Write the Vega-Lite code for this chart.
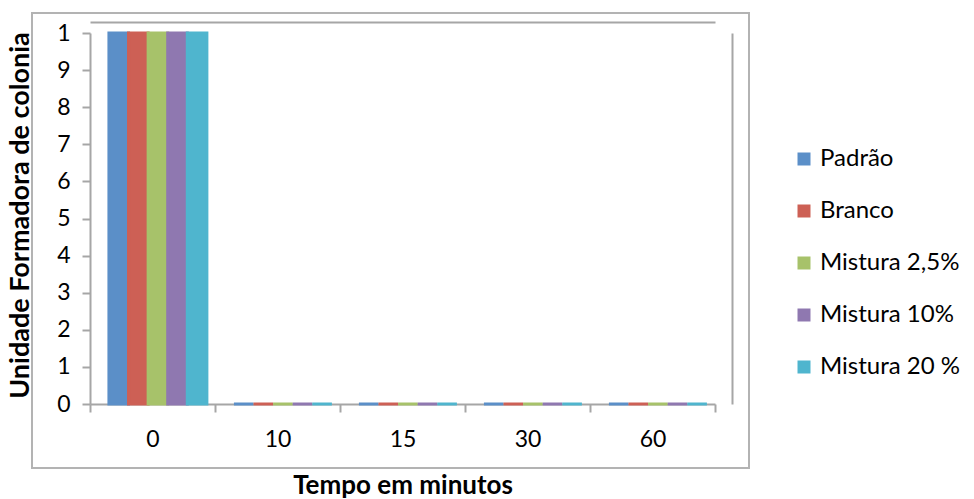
{
  "$schema": "https://vega.github.io/schema/vega-lite/v6.json",
  "width": 717,
  "height": 455,
  "autosize": "none",
  "padding": {"left": 32, "top": 13, "right": 225, "bottom": 31},
  "background": "white",
  "config": {
    "font": "Lato",
    "view": {"stroke": "#b3b3b3", "strokeWidth": 2},
    "axis": {"grid": false, "domainColor": "#a6a6a6", "domainWidth": 2, "tickColor": "#a6a6a6", "tickWidth": 2, "labelColor": "#000000", "titleColor": "#000000", "labelFont": "Lato", "titleFont": "Lato"}
  },
  "data": {
    "values": [
      {"tempo": "0", "serie": "Padrão", "ufc": 10},
      {"tempo": "0", "serie": "Branco", "ufc": 10},
      {"tempo": "0", "serie": "Mistura 2,5%", "ufc": 10},
      {"tempo": "0", "serie": "Mistura 10%", "ufc": 10},
      {"tempo": "0", "serie": "Mistura 20 %", "ufc": 10},
      {"tempo": "10", "serie": "Padrão", "ufc": 0},
      {"tempo": "10", "serie": "Branco", "ufc": 0},
      {"tempo": "10", "serie": "Mistura 2,5%", "ufc": 0},
      {"tempo": "10", "serie": "Mistura 10%", "ufc": 0},
      {"tempo": "10", "serie": "Mistura 20 %", "ufc": 0},
      {"tempo": "15", "serie": "Padrão", "ufc": 0},
      {"tempo": "15", "serie": "Branco", "ufc": 0},
      {"tempo": "15", "serie": "Mistura 2,5%", "ufc": 0},
      {"tempo": "15", "serie": "Mistura 10%", "ufc": 0},
      {"tempo": "15", "serie": "Mistura 20 %", "ufc": 0},
      {"tempo": "30", "serie": "Padrão", "ufc": 0},
      {"tempo": "30", "serie": "Branco", "ufc": 0},
      {"tempo": "30", "serie": "Mistura 2,5%", "ufc": 0},
      {"tempo": "30", "serie": "Mistura 10%", "ufc": 0},
      {"tempo": "30", "serie": "Mistura 20 %", "ufc": 0},
      {"tempo": "60", "serie": "Padrão", "ufc": 0},
      {"tempo": "60", "serie": "Branco", "ufc": 0},
      {"tempo": "60", "serie": "Mistura 2,5%", "ufc": 0},
      {"tempo": "60", "serie": "Mistura 10%", "ufc": 0},
      {"tempo": "60", "serie": "Mistura 20 %", "ufc": 0}
    ]
  },
  "layer": [
    {
      "mark": {"type": "bar", "strokeWidth": 3},
      "encoding": {
        "x": {
          "field": "tempo", "type": "nominal", "sort": ["0", "10", "15", "30", "60"],
          "scale": {"range": [58, 683], "paddingInner": 0, "paddingOuter": 0},
          "axis": {"orient": "bottom", "offset": -64, "labelAngle": 0, "tickBand": "extent", "tickSize": 8, "labelPadding": 16, "labelFontSize": 23, "labelFontWeight": "normal", "title": "Tempo em minutos", "titleFontSize": 26, "titleFontWeight": "bold", "titleY": 81, "titleBaseline": "middle"}
        },
        "xOffset": {
          "field": "serie", "type": "nominal", "sort": ["Padrão", "Branco", "Mistura 2,5%", "Mistura 10%", "Mistura 20 %"],
          "scale": {"paddingInner": 0, "paddingOuter": 0.69, "align": 0.7}
        },
        "y": {
          "field": "ufc", "type": "quantitative",
          "scale": {"domain": [0, 10], "range": [391, 20], "nice": false},
          "axis": {"orient": "left", "offset": -58, "values": [0, 1, 2, 3, 4, 5, 6, 7, 8, 9, 10], "labelExpr": "datum.value == 10 ? '1' : datum.label", "tickSize": 8, "labelPadding": 12, "labelFontSize": 23, "title": "Unidade Formadora de colonia", "titleFontSize": 27, "titleFontWeight": "bold", "titleAngle": 270, "titleBaseline": "middle", "titleX": -70, "titleY": 202}
        },
        "color": {
          "field": "serie", "type": "nominal", "sort": ["Padrão", "Branco", "Mistura 2,5%", "Mistura 10%", "Mistura 20 %"],
          "scale": {"domain": ["Padrão", "Branco", "Mistura 2,5%", "Mistura 10%", "Mistura 20 %"], "range": ["#5b8fc8", "#cd6055", "#a7c26a", "#8f78b0", "#4fb5ce"]},
          "legend": {"title": null, "orient": "none", "legendX": 760, "legendY": 134, "symbolType": "square", "symbolSize": 169, "symbolStrokeWidth": 0, "labelFontSize": 24, "labelOffset": 4, "rowPadding": 28, "labelColor": "#000000"}
        },
        "stroke": {
          "field": "serie", "type": "nominal",
          "scale": {"domain": ["Padrão", "Branco", "Mistura 2,5%", "Mistura 10%", "Mistura 20 %"], "range": ["#5b8fc8", "#cd6055", "#a7c26a", "#8f78b0", "#4fb5ce"]},
          "legend": null
        }
      }
    },
    {
      "mark": {"type": "point", "opacity": 0},
      "encoding": {
        "x": {"field": "tempo", "type": "nominal", "sort": ["0", "10", "15", "30", "60"], "axis": {"orient": "top", "offset": -9, "ticks": false, "labels": false, "title": null}},
        "y": {"field": "ufc", "type": "quantitative", "axis": {"orient": "right", "offset": -17, "ticks": false, "labels": false, "title": null}}
      }
    }
  ],
  "resolve": {"axis": {"x": "independent", "y": "independent"}}
}
